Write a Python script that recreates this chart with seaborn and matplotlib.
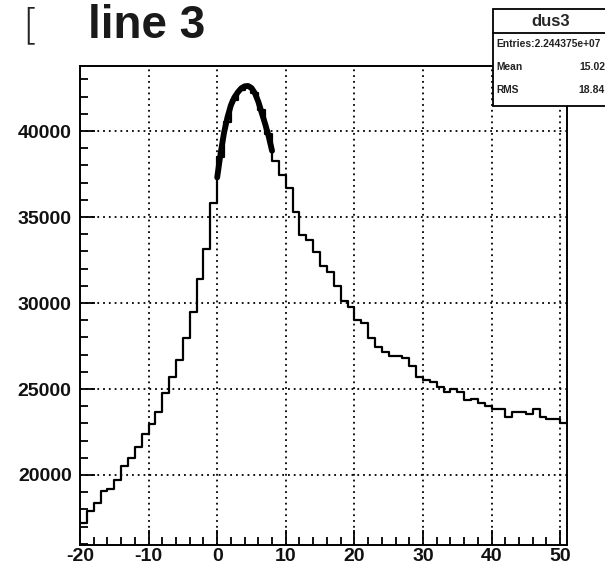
import numpy as np
import pandas as pd
import matplotlib
matplotlib.use("Agg")
import matplotlib.pyplot as plt
import seaborn as sns
from matplotlib.patches import Rectangle
from matplotlib.ticker import MultipleLocator

# ---- data ----
bin_edges = list(range(-20, 52))          # 71 bins of width 1, from -20 to 51
bin_counts = [
    17230, 17920, 18360, 19090, 19200, 19710, 20520, 20970, 21650, 22380,   # -20..-11
    22990, 23660, 24790, 25680, 26690, 27950, 29480, 31380, 33140, 35830,   # -10..-1
    38500, 40500, 41800, 42400, 42600, 42200, 41200, 39800, 38250, 37450,   # 0..9
    36700, 35310, 33930, 33660, 32980, 32130, 31790, 30970, 30140, 29750,   # 10..19
    29010, 28860, 27950, 27460, 27170, 26940, 26940, 26790, 26340, 25680,   # 20..29
    25520, 25420, 25100, 24840, 24980, 24810, 24360, 24420, 24170, 24010,   # 30..39
    23820, 23820, 23390, 23650, 23650, 23550, 23820, 23390, 23260, 23260,   # 40..49
    23000,                                                                 # 50
]
fit_x = [0.0, 0.5, 1.0, 1.5, 2.0, 2.5, 3.0, 3.5, 4.0, 4.5, 5.0, 5.5, 6.0, 6.5, 7.0, 7.5, 8.0]
fit_y = [37300, 38700, 39900, 40800, 41500, 41950, 42250, 42480, 42600, 42620,
         42500, 42200, 41700, 41050, 40400, 39700, 38850]

title_text = "line 3"
stats_name = "dus3"
stats_rows = [("Entries:2.244375e+07", ""), ("Mean", "15.02"), ("RMS", "18.84")]

x_major = [-20, -10, 0, 10, 20, 30, 40, 50]
y_major = [20000, 25000, 30000, 35000, 40000]

# ---- figure ----
sns.set_theme(style="white")
plt.rcParams['font.family'] = ['Liberation Sans', 'DejaVu Sans']

W, H = 605, 564
fig = plt.figure(figsize=(W / 100, H / 100), dpi=100)
fig.patch.set_facecolor("white")

L, R, T, B = 80, 567, 66, 545
ax = fig.add_axes([L / W, 1 - B / H, (R - L) / W, (B - T) / H])
ax.set_facecolor("white")

centers = [e + 0.5 for e in bin_edges[:-1]]
df = pd.DataFrame({"x": centers, "w": bin_counts})
sns.histplot(data=df, x="x", weights="w", bins=bin_edges, element="step",
             fill=False, color="black", linewidth=1.6, ax=ax)

fit_df = pd.DataFrame({"x": fit_x, "y": fit_y})
sns.lineplot(data=fit_df, x="x", y="y", color="black", linewidth=4.2, ax=ax,
             estimator=None, sort=True, zorder=6)
for ln in ax.lines:
    ln.set_solid_joinstyle("round")
    ln.set_solid_capstyle("round")

ax.set_xlim(-20, 51)
ax.set_ylim(15930, 43780)
ax.set_xlabel("")
ax.set_ylabel("")

ax.set_xticks(x_major)
ax.set_xticklabels([str(v) for v in x_major])
ax.set_yticks(y_major)
ax.set_yticklabels([str(v) for v in y_major])
ax.xaxis.set_minor_locator(MultipleLocator(2))
ax.yaxis.set_minor_locator(MultipleLocator(1000))

ax.tick_params(axis="both", which="both", direction="in", color="black",
               top=False, right=False, left=True, bottom=True)
ax.tick_params(axis="both", which="major", length=11, width=1.3)
ax.tick_params(axis="both", which="minor", length=6, width=1.3)
ax.tick_params(axis="y", which="major", pad=6, labelsize=14)
ax.tick_params(axis="x", which="major", pad=2, labelsize=14)
for lab in ax.get_xticklabels() + ax.get_yticklabels():
    lab.set_fontweight("bold")
    lab.set_color("#111111")

ax.grid(True, which="major", color="black", linestyle=(0, (1, 2.2)), linewidth=1.3)
for s in ax.spines.values():
    s.set_visible(True)
    s.set_color("black")
    s.set_linewidth(1.4)

# ---- title ----
fig.text(22 / W, 1 - 27 / H, "[", fontsize=30, fontweight="light", color="#222222",
         ha="left", va="center", family=["DejaVu Sans"])
fig.text(88 / W, 1 - 26 / H, title_text, fontsize=33, fontweight="bold",
         color="#1a1a1a", ha="left", va="center")

# ---- stats box ----
bx0, bx1, by0, by1, bdiv = 492.7, 609, 9.3, 106, 33.3
box_ax = fig.add_axes([0, 0, 1, 1], facecolor="none")
box_ax.set_xlim(0, W)
box_ax.set_ylim(H, 0)
box_ax.axis("off")
box_ax.add_patch(Rectangle((bx0, by0), bx1 - bx0, by1 - by0, facecolor="white",
                           edgecolor="black", linewidth=1.3, zorder=10, clip_on=False))
box_ax.plot([bx0, bx1], [bdiv, bdiv], color="black", linewidth=1.3, zorder=11,
            clip_on=False)
box_ax.text((bx0 + bx1) / 2, 21.5, stats_name, fontsize=12, fontweight="bold",
            ha="center", va="center", zorder=12)
row_y = [44, 67, 90]
for (lab, val), yy in zip(stats_rows, row_y):
    box_ax.text(496, yy, lab, fontsize=7.4, fontweight="bold", ha="left",
                va="center", zorder=12, color="#222222")
    if val:
        box_ax.text(605, yy, val, fontsize=7.5, fontweight="bold", ha="right",
                    va="center", zorder=12, color="#222222")

fig.savefig("out.png", dpi=100, facecolor="white")
